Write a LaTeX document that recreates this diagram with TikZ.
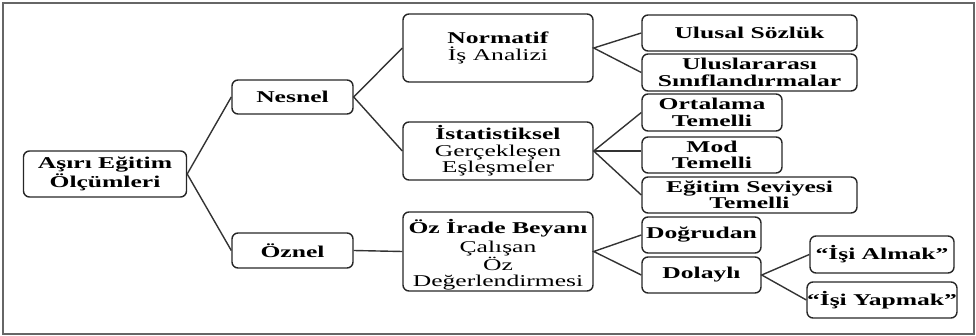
\documentclass[tikz,border=0pt]{standalone}
\usepackage{fontspec}
\setmainfont{Liberation Serif}[FakeStretch=1.55]
\tikzset{
  kutu/.style={draw=black!85, line width=1.4pt, rounded corners=6pt, align=center,
    inner sep=0pt, font=\fontsize{16.5}{16.5}\selectfont},
  bag/.style={draw=black!80, line width=1.4pt}
}
\begin{document}
\begin{tikzpicture}[x=1pt,y=-1pt]
\useasboundingbox (0,0) rectangle (976,336);
\draw[black!60, line width=1.2pt] (3,3) rectangle (974,334);
% sol
\node[kutu, minimum width=163pt, minimum height=46pt] (kok) at (105,174) {\textbf{Aşırı Eğitim}\\\textbf{Ölçümleri}};
\node[kutu, minimum width=121pt, minimum height=34pt] (nesnel) at (292.5,97) {\textbf{Nesnel}};
\node[kutu, minimum width=121pt, minimum height=35pt] (oznel) at (292.5,250.5) {\textbf{Öznel}};
% orta
\node[kutu, minimum width=190pt, minimum height=68pt] (normatif) at (498,48) {\textbf{Normatif}\\İş Analizi};
\node[kutu, minimum width=190pt, minimum height=58pt] (istat) at (498,151) {\textbf{İstatistiksel}\\Gerçekleşen\\Eşleşmeler};
\node[kutu, minimum width=190pt, minimum height=79pt] (irade) at (498,251.5) {\rule{0pt}{21pt}\textbf{Öz İrade Beyanı}\\[2pt]Çalışan\\Öz\\Değerlendirmesi};
% sag
\node[kutu, minimum width=215pt, minimum height=36pt] (ulusal) at (749.5,33) {\textbf{Ulusal Sözlük}};
\node[kutu, minimum width=215pt, minimum height=37pt] (uluslar) at (749.5,72.5) {\textbf{Uluslararası}\\\textbf{Sınıflandırmalar}};
\node[kutu, minimum width=140pt, minimum height=37pt] (ortalama) at (712,112.5) {\textbf{Ortalama}\\\textbf{Temelli}};
\node[kutu, minimum width=140pt, minimum height=36pt] (mod) at (712,155) {\textbf{Mod}\\\textbf{Temelli}};
\node[kutu, minimum width=215pt, minimum height=36pt] (egitim) at (749.5,195) {\textbf{Eğitim Seviyesi}\\\textbf{Temelli}};
\node[kutu, minimum width=119pt, minimum height=36pt] (dogrudan) at (701.5,235) {\textbf{Doğrudan}};
\node[kutu, minimum width=119pt, minimum height=36pt] (dolayli) at (701.5,275) {\textbf{Dolaylı}};
\node[kutu, minimum width=144pt, minimum height=37pt] (almak) at (882,254.5) {\textbf{“İşi Almak”}};
\node[kutu, minimum width=144pt, minimum height=36pt] (yapmak) at (882,300) {\textbf{“İşi Yapmak”}};
% baglar
\draw[bag] (nesnel.west)--(kok.east)--(oznel.west);
\draw[bag] (normatif.west)--(nesnel.east)--(istat.west);
\draw[bag] (oznel.east)--(irade.west);
\draw[bag] (ulusal.west)--(normatif.east)--(uluslar.west);
\draw[bag] (ortalama.west)--(istat.east)--(egitim.west);
\draw[bag] (istat.east)--(mod.west|-istat.east);
\draw[bag] (dogrudan.west)--(irade.east)--(dolayli.west);
\draw[bag] (almak.west)--(dolayli.east)--(yapmak.west);
\end{tikzpicture}
\end{document}
